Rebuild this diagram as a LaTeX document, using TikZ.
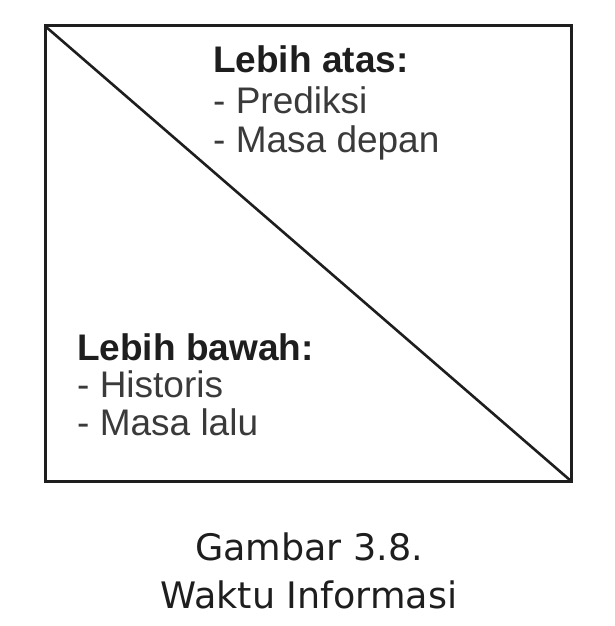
\documentclass[tikz,border=0pt]{standalone}
\usepackage{fontspec}
\setmainfont{Liberation Sans}
\newfontfamily\capfont{DejaVu Sans}
\definecolor{garis}{HTML}{1E1E1E}
\definecolor{teks}{HTML}{3A3A3A}

\begin{document}
\begin{tikzpicture}[x=1pt,y=-1pt,
    isi/.style={anchor=base west, inner sep=0pt, text=teks, font=\fontsize{37}{39}\selectfont},
    judul/.style={isi, font=\fontsize{37}{39}\selectfont\bfseries, text=garis},
    keterangan/.style={anchor=base, inner sep=0pt, text=garis, font=\capfont\fontsize{36.5}{40}\selectfont}]
            \useasboundingbox (0,0) rectangle (615,626);
            \coordinate (kiriatas) at (45,26);
            \coordinate (kananbawah) at (571,481);
            \draw [garis, line width=3pt] (kiriatas) rectangle (kananbawah);
            \draw [garis, line width=2.6pt] (kiriatas) -- (kananbawah);

            \node [judul] (atas1) at (213,73) {Lebih atas:};
            \node [isi] (atas2) at (213,113) {- Prediksi};
            \node [isi] (atas3) at (213,152) {- Masa depan};

            \node [judul] (bawah1) at (77,360) {Lebih bawah:};
            \node [isi] (bawah2) at (77,397) {- Historis};
            \node [isi] (bawah3) at (77,435) {- Masa lalu};

            \node [keterangan] (cap1) at (309,560) {Gambar 3.8.};
            \node [keterangan] (cap2) at (309,608) {Waktu Informasi};
        \end{tikzpicture}
\end{document}
